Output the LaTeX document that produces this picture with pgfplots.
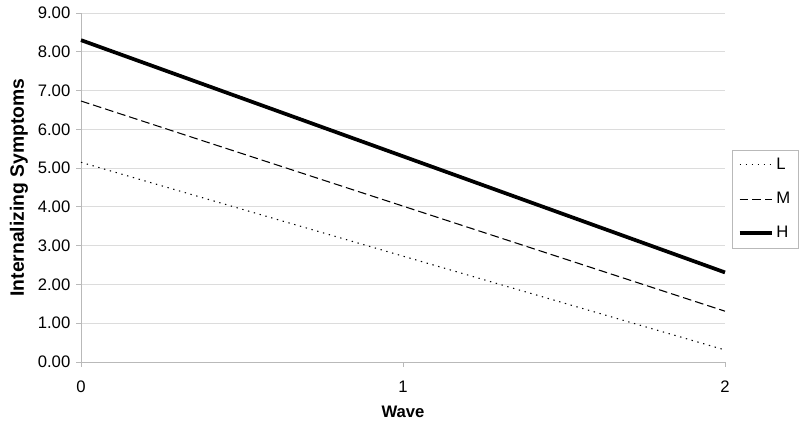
\documentclass[border=0pt]{standalone}
\usepackage{fontspec}
\setmainfont{Liberation Sans}
\usepackage{pgfplots}
\pgfplotsset{compat=1.18}
\definecolor{gridc}{RGB}{220,220,220}
\definecolor{axc}{RGB}{185,185,185}
\begin{document}
\begin{tikzpicture}
\useasboundingbox (-60.75pt,-49.5pt) rectangle (539.25pt,271.5pt);
\begin{axis}[
  at={(0pt,0pt)}, anchor=origin,
  scale only axis,
  width=483pt, height=261.75pt,
  xmin=0, xmax=2, ymin=0, ymax=9,
  xtick={0,1,2}, ytick={0,1,...,9},
  axis x line*=bottom, axis y line*=left,
  axis line style={draw=axc, line width=0.6pt, -},
  ymajorgrids, grid style={draw=gridc, line width=0.6pt},
  tick style={draw=axc, line width=0.6pt},
  tick align=outside, major tick length=3.5pt,
  /pgf/number format/assume math mode=true,
  yticklabel style={/pgf/number format/.cd, fixed, fixed zerofill, precision=2},
  xticklabel style={/pgf/number format/fixed},
  xticklabel shift=7pt,
  yticklabel shift=1pt,
  tick label style={font=\fontsize{12.5}{14}\selectfont},
  xlabel={\textbf{Wave}}, ylabel={\textbf{Internalizing Symptoms}},
  xlabel style={font=\fontsize{12.5}{14}\selectfont, at={(axis description cs:0.5,-0.1433)}, anchor=center},
  ylabel style={font=\fontsize{14.5}{16}\selectfont, at={(axis description cs:-0.0963,0.5)}, anchor=center},
  legend style={at={(axis description cs:1.011,0.608)}, anchor=north west,
    draw=axc, line width=0.6pt, font=\fontsize{12.5}{14}\selectfont,
    row sep=11.5pt, inner xsep=4pt, inner ysep=4pt},
  legend cell align=left,
  legend image code/.code={\draw[#1] (0cm,0cm) -- (0.85cm,0cm);},
  clip=false,
]
\addplot[black, line width=0.8pt, dash pattern=on 1pt off 3.5pt] coordinates {(0,5.15) (2,0.31)};
\addlegendentry{L}
\addplot[black, line width=0.8pt, dash pattern=on 6.5pt off 3pt] coordinates {(0,6.73) (2,1.31)};
\addlegendentry{M}
\addplot[black, line width=2.8pt] coordinates {(0,8.30) (2,2.31)};
\addlegendentry{H}
\end{axis}
\end{tikzpicture}
\end{document}
